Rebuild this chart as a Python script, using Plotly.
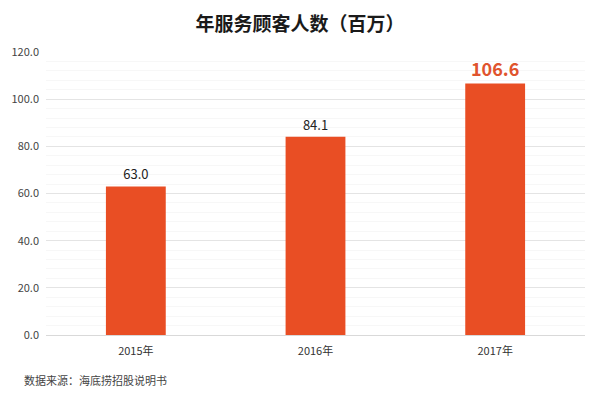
import plotly.graph_objects as go

categories = ["2015年", "2016年", "2017年"]
values = [63.0, 84.1, 106.6]
y_ticks = [0, 20, 40, 60, 80, 100, 120]
y_tick_labels = ["0.0", "20.0", "40.0", "60.0", "80.0", "100.0", "120.0"]
title = "年服务顾客人数（百万）"
source = "数据来源：海底捞招股说明书"

font_family = "Noto Sans CJK SC, Noto Sans, sans-serif"
bar_color = "#E94E24"

texts = [f"{v:.1f}" for v in values]
texts[-1] = f"<b>{values[-1]:.1f}</b>"
text_sizes = [13, 13, 18]
text_colors = ["#222222", "#222222", "#E0542E"]

fig = go.Figure(go.Bar(
    x=categories, y=values,
    marker=dict(color=bar_color, line=dict(width=0)),
    width=0.333,
    text=texts, textposition="outside",
    textfont=dict(size=text_sizes, color=text_colors, family=font_family),
    cliponaxis=False,
))

fig.update_layout(
    width=600, height=398,
    margin=dict(l=43, r=15, t=52, b=63),
    paper_bgcolor="white", plot_bgcolor="white",
    font=dict(family=font_family, size=11, color="#444444"),
    showlegend=False,
    title=dict(text=f"<b>{title}</b>", x=0.5, xanchor="center", y=0.94, yanchor="middle",
               font=dict(size=19, color="#1a1a1a", family=font_family)),
    yaxis=dict(range=[0, 120], tickvals=y_ticks, ticktext=y_tick_labels,
               showgrid=True, gridcolor="#E4E4E4", gridwidth=1,
               zeroline=True, zerolinecolor="#D9D9D9", zerolinewidth=1,
               showline=False, ticks="", ticklabelstandoff=6,
               tickfont=dict(size=11, color="#444444"),
               minor=dict(dtick=4, showgrid=True, gridcolor="#F7F7F7", gridwidth=1)),
    xaxis=dict(showgrid=False, showline=False, ticks="", ticklabelstandoff=8,
               tickfont=dict(size=11, color="#333333")),
    bargap=0.667,
)

fig.add_annotation(text=source, xref="paper", yref="paper", x=-0.045, y=-0.16,
                   xanchor="left", yanchor="middle", showarrow=False,
                   font=dict(size=11, color="#444444", family=font_family))

fig.write_html("out.html")
